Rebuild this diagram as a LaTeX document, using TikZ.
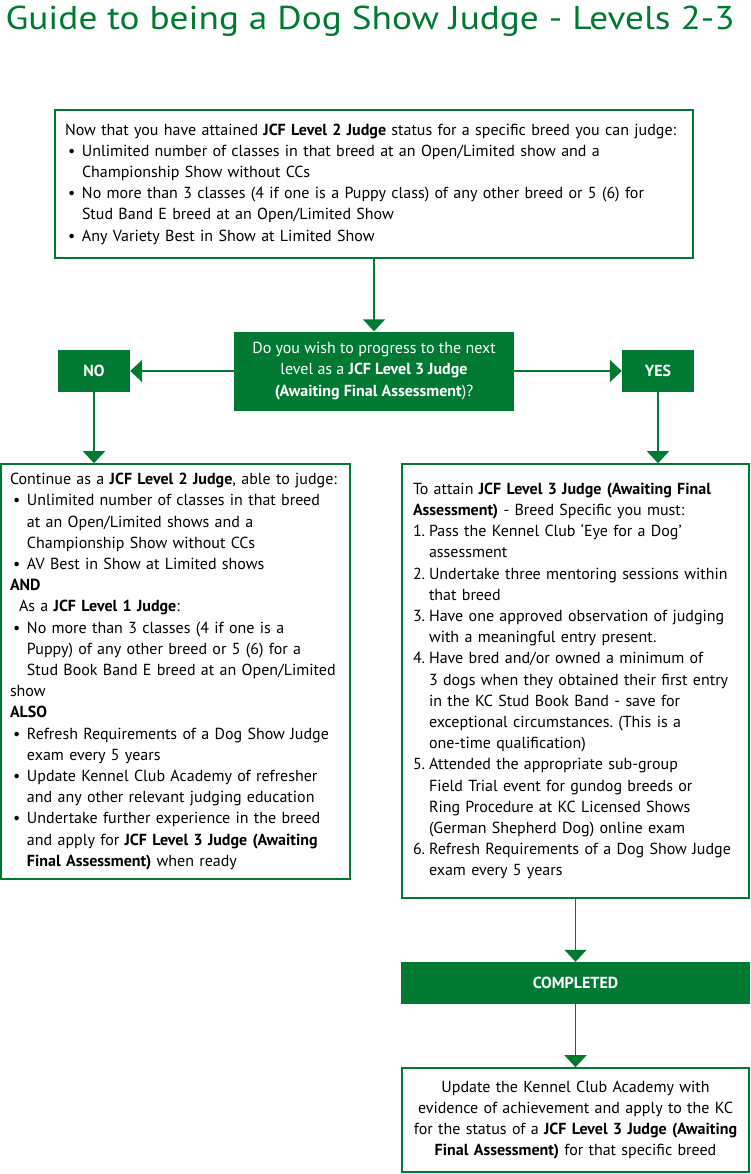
\documentclass[tikz,border=0pt]{standalone}
\usepackage{fontspec}
\setmainfont{PT Sans}
\newfontfamily\titlefont[FakeStretch=1.13]{PT Sans}
\usepackage{tikz}
\usetikzlibrary{arrows.meta}
\definecolor{kcgreen}{RGB}{0,122,51}
\newcommand\bul{\par\hangindent=17pt\hangafter=1\noindent\makebox[17pt][l]{\hspace{3pt}\textbullet}}
\newcommand\stepno[1]{\par\hangindent=16pt\hangafter=1\noindent\makebox[16pt][l]{#1.}}
\frenchspacing

\begin{document}
\begin{tikzpicture}[x=1pt,y=-1pt,
  every node/.style={font=\fontsize{16}{21.2}\selectfont},
  txtbox/.style={draw=kcgreen,line width=1.6pt,inner xsep=10pt,inner ysep=0pt,align=left},
  greenbox/.style={fill=kcgreen,text=white,inner sep=0pt,align=center},
  flow/.style={draw=kcgreen,line width=1.6pt,-{Triangle[width=22pt,length=12pt]}}]
\useasboundingbox (0,0) rectangle (750,1174);
\node[anchor=base west,text=kcgreen,font=\titlefont\fontsize{33}{38}\selectfont] (title) at (2,30) {Guide to being a Dog Show Judge - Levels 2-3};
\node[txtbox,minimum width=638pt,minimum height=148pt,text width=618pt] (top) at (374,184) {Now that you have attained \textbf{JCF Level 2 Judge} status for a specific breed you can judge:
\bul Unlimited number of classes in that breed at an Open/Limited show and a\newline Championship Show without CCs
\bul No more than 3 classes (4 if one is a Puppy class) of any other breed or 5 (6) for\newline Stud Band E breed at an Open/Limited Show
\bul Any Variety Best in Show at Limited Show\par};
\node[greenbox,minimum width=280pt,minimum height=79pt] (ask) at (374,371) {Do you wish to progress to the next\\ level as a \textbf{JCF Level 3 Judge}\\ \textbf{(Awaiting Final Assessment})?};
\node[greenbox,minimum width=72pt,minimum height=42pt,font=\fontsize{16}{18}\bfseries] (no) at (94,371) {NO};
\node[greenbox,minimum width=72pt,minimum height=42pt,font=\fontsize{16}{18}\bfseries] (yes) at (658,371) {YES};
\node[txtbox,inner xsep=9pt,minimum width=349pt,minimum height=415pt,text width=331pt] (left) at (175.5,671.5) {Continue as a \textbf{JCF Level 2 Judge}, able to judge:
\bul Unlimited number of classes in that breed\newline at an Open/Limited shows and a\newline Championship Show without CCs
\bul AV Best in Show at Limited shows
\par\textbf{AND}
\par\hspace*{9pt}As a \textbf{JCF Level 1 Judge}:
\bul No more than 3 classes (4 if one is a\newline Puppy) of any other breed or 5 (6) for a\newline Stud Book Band E breed at an Open/Limited
\par show
\par\textbf{ALSO}
\bul Refresh Requirements of a Dog Show Judge\newline exam every 5 years
\bul Update Kennel Club Academy of refresher\newline and any other relevant judging education
\bul Undertake further experience in the breed\newline and apply for \textbf{JCF Level 3 Judge (Awaiting\newline Final Assessment)} when ready\par};
\node[txtbox,inner xsep=11pt,minimum width=347pt,minimum height=434pt,text width=325pt] (right) at (575.5,681) {To attain \textbf{JCF Level 3 Judge (Awaiting Final\newline Assessment)} - Breed Specific you must:
\stepno{1}Pass the Kennel Club ‘Eye for a Dog’\newline assessment
\stepno{2}Undertake three mentoring sessions within\newline that breed
\stepno{3}Have one approved observation of judging\newline with a meaningful entry present.
\stepno{4}Have bred and/or owned a minimum of\newline 3 dogs when they obtained their first entry\newline in the KC Stud Book Band - save for\newline exceptional circumstances. (This is a\newline one-time qualification)
\stepno{5}Attended the appropriate sub-group\newline Field Trial event for gundog breeds or\newline Ring Procedure at KC Licensed Shows\newline (German Shepherd Dog) online exam
\stepno{6}Refresh Requirements of a Dog Show Judge\newline exam every 5 years\par};
\node[greenbox,minimum width=349pt,minimum height=42pt,font=\fontsize{16}{18}\bfseries] (done) at (575.5,983) {COMPLETED};
\node[txtbox,align=center,inner xsep=8pt,minimum width=347pt,minimum height=104pt,text width=331pt] (final) at (575.5,1120) {Update the Kennel Club Academy with\\ evidence of achievement and apply to the KC\\ for the status of a \textbf{JCF Level 3 Judge (Awaiting}\\ \textbf{Final Assessment)} for that specific breed};
\draw[flow] (top) -- (ask);
\draw[flow] (ask) -- (no);
\draw[flow] (ask) -- (yes);
\draw[flow] (no) -- (no |- left.north);
\draw[flow] (yes) -- (yes |- right.north);
\draw[flow] (right) -- (done);
\draw[flow] (done) -- (final);
\end{tikzpicture}
\end{document}
